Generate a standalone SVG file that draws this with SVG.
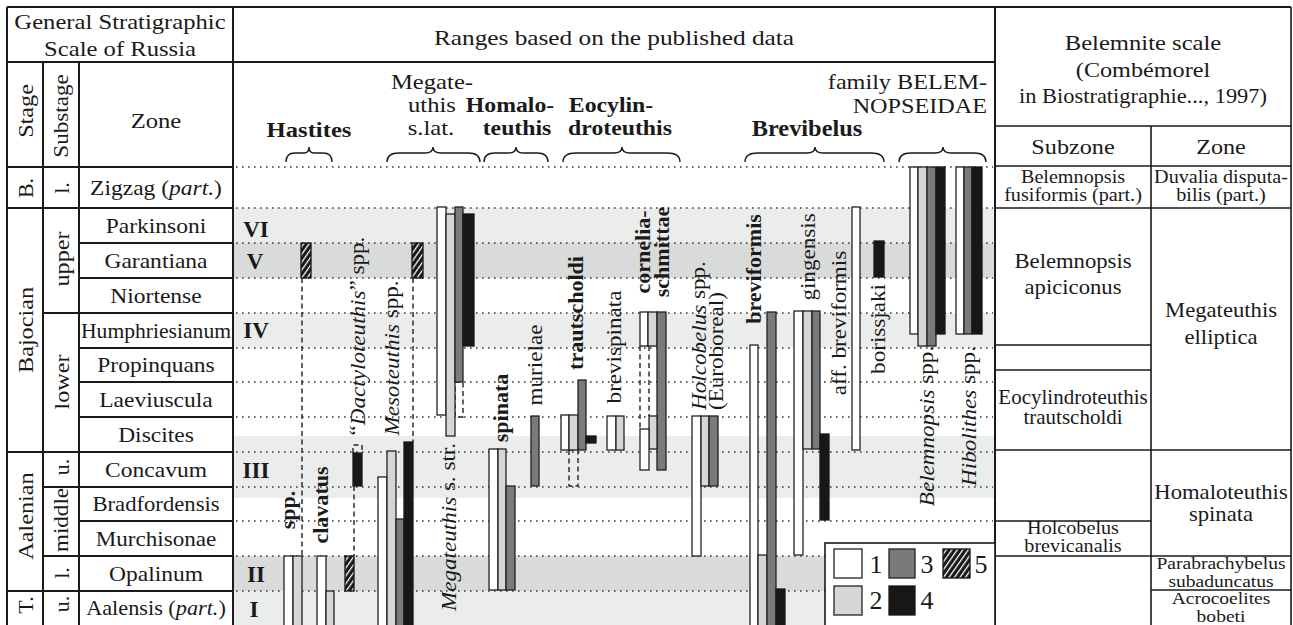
<svg xmlns="http://www.w3.org/2000/svg" width="1293" height="625" viewBox="0 0 1293 625">
<defs>
<pattern id="hatch" patternUnits="userSpaceOnUse" width="4.5" height="4.5" patternTransform="rotate(35)">
<rect width="4.5" height="4.5" fill="#151515"/>
<line x1="1.5" y1="0" x2="1.5" y2="4.5" stroke="#fff" stroke-width="1.3"/>
</pattern>
</defs>
<style>
text{font-family:"Liberation Serif","Times New Roman",serif;fill:#1a1a1a}
.zn{font-size:21px;text-anchor:middle}
.hd{font-size:22px;text-anchor:middle}
.he{font-size:22px;text-anchor:end}
.rt{font-size:20px;text-anchor:middle}
.rt2{font-size:18px;text-anchor:middle}
.rt3{font-size:17px;text-anchor:middle}
.rl{font-size:21px;text-anchor:middle;dominant-baseline:central}
.rs{font-size:21px;text-anchor:start;dominant-baseline:central}
.bd{font-weight:bold}
.rn{font-size:23px;font-weight:bold;text-anchor:middle}
.lg{font-size:26px;text-anchor:middle}
.ln{stroke:#1a1a1a;stroke-width:2;fill:none}
.ln2{stroke:#1a1a1a;stroke-width:1.6;fill:none}
.dot{stroke:#3a3a3a;stroke-width:1.6;stroke-dasharray:1.6 4.4;fill:none}
.dash{stroke:#222;stroke-width:1.4;stroke-dasharray:5 3.5;fill:none}
.b1{fill:#fff;stroke:#222;stroke-width:1.3}
.b2{fill:#d6d6d6;stroke:#222;stroke-width:1.3}
.b3{fill:#7a7a7a;stroke:#222;stroke-width:1.3}
.b4{fill:#171717;stroke:#171717;stroke-width:1.3}
.b5{fill:url(#hatch);stroke:#151515;stroke-width:1.3}
.br{stroke:#1a1a1a;stroke-width:1.4;fill:none}
</style>
<rect width="1293" height="625" fill="#fff"/>

<g id="bands">
<rect x="234" y="208" width="760" height="35" fill="#ebecec"/>
<rect x="234" y="243" width="760" height="35" fill="#d9dada"/>
<rect x="234" y="313" width="760" height="35" fill="#ebecec"/>
<rect x="234" y="436" width="760" height="62" fill="#ebecec"/>
<rect x="234" y="556" width="760" height="35" fill="#d9dada"/>
<rect x="234" y="591" width="760" height="34" fill="#ebecec"/>
</g>

<g id="dotted-levels">
<path class="dot" d="M236 167H993M236 208H993M236 243H993M236 278H993M236 313H993M236 348H993M236 382H993M236 417H993M236 452H993M236 487H993M236 521H993M236 556H993M236 591H993"/>
</g>

<g id="grid">
<path class="ln" d="M7 7H1291M7 7V625M233 7V625M995 7V625M7 62H995M7 167H233M43 62V625M79 62V625"/>
<path class="ln" d="M79 243H233M79 278H233M79 348H233M79 382H233M79 417H233M79 521H233M43 313H233M43 487H233M43 556H233M7 208H233M7 452H233M7 591H233"/>
<path class="ln2" d="M1291 7V625M995 126H1291M1151 126V625M995 166H1291M995 208H1291M995 345H1151M995 370H1151M995 450H1291M995 521H1151M995 556H1291M1151 590H1291"/>
</g>

<g id="header-left">
<text class="hd" transform="translate(120,29) scale(1.12,1)">General Stratigraphic</text>
<text class="hd" transform="translate(120,56) scale(1.12,1)">Scale of Russia</text>
<text class="rl" style="font-size:22px" transform="translate(25,111) rotate(-90) scale(1.1,1)">Stage</text>
<text class="rl" transform="translate(61,116) rotate(-90) scale(1.1,1)">Substage</text>
<text class="hd" transform="translate(156,128) scale(1.12,1)">Zone</text>
</g>

<g id="stages">
<text class="rl" style="font-size:22px" transform="translate(25,188) rotate(-90)">B.</text>
<text class="rl" style="font-size:22px" transform="translate(25,330) rotate(-90) scale(1.1,1)">Bajocian</text>
<text class="rl" style="font-size:22px" transform="translate(25,516) rotate(-90) scale(1.1,1)">Aalenian</text>
<text class="rl" style="font-size:22px" transform="translate(25,605) rotate(-90)">T.</text>
<text class="rl" style="font-size:22px" transform="translate(61,188) rotate(-90)">l.</text>
<text class="rl" style="font-size:22px" transform="translate(61,259) rotate(-90) scale(1.1,1)">upper</text>
<text class="rl" style="font-size:22px" transform="translate(61,382) rotate(-90) scale(1.1,1)">lower</text>
<text class="rl" style="font-size:22px" transform="translate(61,467) rotate(-90)">u.</text>
<text class="rl" style="font-size:22px" transform="translate(61,520) rotate(-90) scale(1.05,1)">middle</text>
<text class="rl" style="font-size:22px" transform="translate(61,573) rotate(-90)">l.</text>
<text class="rl" style="font-size:22px" transform="translate(61,604) rotate(-90)">u.</text>
</g>

<g id="zones">
<text class="zn" transform="translate(156,195) scale(1.12,1)">Zigzag (<tspan font-style="italic">part.</tspan>)</text>
<text class="zn" transform="translate(156,233) scale(1.12,1)">Parkinsoni</text>
<text class="zn" transform="translate(156,268) scale(1.12,1)">Garantiana</text>
<text class="zn" transform="translate(156,303) scale(1.12,1)">Niortense</text>
<text class="zn" transform="translate(156,338) scale(1.03,1)">Humphriesianum</text>
<text class="zn" transform="translate(156,372) scale(1.12,1)">Propinquans</text>
<text class="zn" transform="translate(156,407) scale(1.12,1)">Laeviuscula</text>
<text class="zn" transform="translate(156,442) scale(1.12,1)">Discites</text>
<text class="zn" transform="translate(156,477) scale(1.12,1)">Concavum</text>
<text class="zn" transform="translate(156,511) scale(1.08,1)">Bradfordensis</text>
<text class="zn" transform="translate(156,546) scale(1.1,1)">Murchisonae</text>
<text class="zn" transform="translate(156,581) scale(1.12,1)">Opalinum</text>
<text class="zn" transform="translate(156,615) scale(1.06,1)">Aalensis (<tspan font-style="italic">part.</tspan>)</text>
</g>

<g id="levels">
<text class="rn" x="256" y="237">VI</text>
<text class="rn" x="255" y="269">V</text>
<text class="rn" x="256" y="338">IV</text>
<text class="rn" x="256" y="478">III</text>
<text class="rn" x="256" y="582">II</text>
<text class="rn" x="254" y="617">I</text>
</g>

<g id="header-middle">
<text class="hd" transform="translate(614,45) scale(1.15,1)">Ranges based on the published data</text>
<text class="hd bd" transform="translate(309,137) scale(1.12,1)">Hastites</text>
<text class="hd" transform="translate(432,89) scale(1.12,1)">Megate-</text>
<text class="hd" transform="translate(432,112) scale(1.12,1)">uthis</text>
<text class="hd" transform="translate(431,135) scale(1.12,1)">s.lat.</text>
<text class="hd bd" transform="translate(510,112) scale(1.08,1)">Homalo-</text>
<text class="hd bd" transform="translate(517,135) scale(1.08,1)">teuthis</text>
<text class="hd bd" transform="translate(611,112) scale(1.08,1)">Eocylin-</text>
<text class="hd bd" transform="translate(620,135) scale(1.08,1)">droteuthis</text>
<text class="hd bd" style="font-size:23px" transform="translate(807,136) scale(1.06,1)">Brevibelus</text>
<text class="he" transform="translate(987,89) scale(1.1,1)">family BELEM-</text>
<text class="he" transform="translate(987,113) scale(1.1,1)">NOPSEIDAE</text>
</g>

<g id="braces">
<path class="br" d="M286 162Q286 153 295 153L304 153Q309 153 309 147Q309 153 314 153L323 153Q332 153 332 162"/>
<path class="br" d="M387 162Q387 153 399 153L425 153Q433 153 433 147Q433 153 441 153L468 153Q480 153 480 162"/>
<path class="br" d="M484 162Q484 153 495 153L509 153Q516 153 516 147Q516 153 523 153L537 153Q548 153 548 162"/>
<path class="br" d="M563 162Q563 153 576 153L614 153Q622 153 622 147Q622 153 630 153L667 153Q680 153 680 162"/>
<path class="br" d="M745 162Q745 153 758 153L807 153Q815 153 815 147Q815 153 823 153L871 153Q884 153 884 162"/>
<path class="br" d="M899 162Q899 153 911 153L935 153Q943 153 943 147Q943 153 951 153L974 153Q986 153 986 162"/>
</g>

<g id="connectors">
<path class="dash" d="M302 278V556M354 486V556M413 278V442M640 346V429M649 346V416M353 453V445H362V453"/>
<rect class="dash" x="455" y="382" width="8" height="35" fill="#fff"/>
<rect class="dash" x="569" y="450" width="9" height="36" fill="#d6d6d6"/>
</g>

<g id="hastites-spp">
<rect class="b5" x="301" y="243" width="10" height="35"/>
<rect class="b1" x="284" y="556" width="9" height="72"/>
<rect class="b2" x="293" y="556" width="9" height="72"/>
<text class="rl bd" transform="translate(288,510) rotate(-90) scale(1.05,1)">spp.</text>
</g>

<g id="hastites-clavatus">
<rect class="b1" x="317" y="556" width="9" height="72"/>
<rect class="b2" x="326" y="591" width="8" height="37"/>
<text class="rl bd" transform="translate(321,505) rotate(-90) scale(1.05,1)">clavatus</text>
</g>

<g id="dactyloteuthis">
<rect class="b5" x="345" y="556" width="9" height="35"/>
<rect class="b4" x="353" y="453" width="9" height="33"/>
<text class="rl" transform="translate(357,336) rotate(-90) scale(1.1,1)">“<tspan font-style="italic">Dactyloteuthis</tspan>” spp.</text>
</g>

<g id="mesoteuthis">
<rect class="b5" x="412" y="243" width="11" height="35"/>
<rect class="b1" x="378" y="477" width="9" height="151"/>
<rect class="b2" x="387" y="451" width="9" height="177"/>
<rect class="b3" x="396" y="519" width="8" height="109"/>
<rect class="b4" x="404" y="442" width="9" height="186"/>
<text class="rl" transform="translate(391,358) rotate(-90) scale(1.1,1)"><tspan font-style="italic">Mesoteuthis</tspan> spp.</text>
</g>

<g id="megateuthis-s-str">
<rect class="b1" x="437" y="207" width="9" height="208"/>
<rect class="b2" x="446" y="214" width="9" height="222"/>
<rect class="b3" x="455" y="207" width="8" height="175"/>
<rect class="b4" x="463" y="214" width="11" height="132"/>
<text class="rl" transform="translate(448,527) rotate(-90) scale(1.1,1)"><tspan font-style="italic">Megateuthis</tspan> s. str.</text>
</g>

<g id="spinata">
<rect class="b1" x="489" y="449" width="9" height="141"/>
<rect class="b2" x="498" y="449" width="8" height="141"/>
<rect class="b3" x="506" y="486" width="9" height="104"/>
<text class="rl bd" transform="translate(501,408) rotate(-90) scale(1.05,1)">spinata</text>
</g>

<g id="murielae">
<rect class="b3" x="531" y="416" width="8" height="70"/>
<text class="rl" transform="translate(535,365) rotate(-90) scale(1.1,1)">murielae</text>
</g>

<g id="trautscholdi">
<rect class="b1" x="561" y="415" width="8" height="35"/>
<rect class="b2" x="569" y="415" width="9" height="35"/>
<rect class="b3" x="578" y="380" width="8" height="70"/>
<rect class="b4" x="586" y="436" width="10" height="7"/>
<text class="rl bd" transform="translate(576,313) rotate(-90) scale(1.05,1)">trautscholdi</text>
</g>

<g id="brevispinata">
<rect class="b1" x="607" y="416" width="9" height="34"/>
<rect class="b2" x="616" y="416" width="8" height="34"/>
<text class="rl" transform="translate(614,347) rotate(-90) scale(1.1,1)">brevispinata</text>
</g>

<g id="cornelia-schmittae">
<rect class="b1" x="640" y="312" width="8" height="34"/>
<rect class="b2" x="648" y="312" width="9" height="34"/>
<rect class="b3" x="657" y="312" width="9" height="158"/>
<rect class="b2" x="649" y="416" width="8" height="33"/>
<rect class="b1" x="640" y="429" width="9" height="41"/>
<text class="rl bd" transform="translate(643,252) rotate(-90) scale(1.05,1)">cornelia-</text>
<text class="rl bd" transform="translate(662,252) rotate(-90) scale(1.05,1)">schmittae</text>
</g>

<g id="holcobelus">
<rect class="b1" x="692" y="416" width="9" height="140"/>
<rect class="b2" x="701" y="416" width="8" height="70"/>
<rect class="b3" x="709" y="416" width="9" height="70"/>
<text class="rs" transform="translate(698,410) rotate(-90) scale(1.1,1)"><tspan font-style="italic">Holcobelus</tspan> spp.</text>
<text class="rs" transform="translate(716,410) rotate(-90) scale(1.1,1)">(Euroboreal)</text>
</g>

<g id="breviformis">
<rect class="b1" x="750" y="345" width="8" height="283"/>
<rect class="b2" x="758" y="555" width="9" height="73"/>
<rect class="b3" x="767" y="312" width="9" height="316"/>
<rect class="b4" x="776" y="589" width="9" height="39"/>
<text class="rl bd" transform="translate(754,269) rotate(-90) scale(1.05,1)">breviformis</text>
</g>

<g id="gingensis">
<rect class="b1" x="794" y="311" width="9" height="244"/>
<rect class="b2" x="803" y="311" width="9" height="138"/>
<rect class="b3" x="812" y="311" width="8" height="138"/>
<rect class="b4" x="820" y="434" width="9" height="86"/>
<text class="rl" transform="translate(808,257) rotate(-90) scale(1.1,1)">gingensis</text>
</g>

<g id="aff-breviformis">
<rect class="b1" x="852" y="207" width="8" height="243"/>
<text class="rl" transform="translate(839,323) rotate(-90) scale(1.1,1)">aff. breviformis</text>
</g>

<g id="borissjaki">
<rect class="b4" x="874" y="241" width="10" height="36"/>
<text class="rl" transform="translate(878,329) rotate(-90) scale(1.1,1)">borissjaki</text>
</g>

<g id="belemnopsis">
<rect class="b1" x="910" y="167" width="8" height="167"/>
<rect class="b2" x="918" y="167" width="9" height="179"/>
<rect class="b3" x="927" y="167" width="9" height="179"/>
<rect class="b4" x="936" y="167" width="9" height="167"/>
<text class="rl" transform="translate(926,426) rotate(-90) scale(1.1,1)"><tspan font-style="italic">Belemnopsis</tspan> spp.</text>
</g>

<g id="hibolithes">
<rect class="b1" x="956" y="167" width="8" height="167"/>
<rect class="b3" x="964" y="167" width="8" height="167"/>
<rect class="b4" x="972" y="167" width="10" height="167"/>
<text class="rl" transform="translate(968,416) rotate(-90) scale(1.1,1)"><tspan font-style="italic">Hibolithes</tspan> spp.</text>
</g>

<g id="legend">
<rect x="825" y="543" width="170" height="90" fill="#fff" stroke="#1a1a1a" stroke-width="1.6"/>
<rect class="b1" x="834" y="549" width="28" height="29"/>
<rect class="b3" x="889" y="549" width="26" height="29"/>
<rect class="b5" x="943" y="549" width="27" height="29"/>
<rect class="b2" x="834" y="586" width="28" height="29"/>
<rect class="b4" x="889" y="586" width="26" height="29"/>
<text class="lg" x="876" y="573">1</text>
<text class="lg" x="927" y="573">3</text>
<text class="lg" x="981" y="573">5</text>
<text class="lg" x="876" y="609">2</text>
<text class="lg" x="927" y="609">4</text>
</g>

<g id="belemnite-scale">
<text class="hd" transform="translate(1143,50) scale(1.12,1)">Belemnite scale</text>
<text class="hd" transform="translate(1143,77) scale(1.1,1)">(Combémorel</text>
<text class="hd" transform="translate(1143,103) scale(1.02,1)">in Biostratigraphie..., 1997)</text>
<text class="hd" transform="translate(1073,154) scale(1.1,1)">Subzone</text>
<text class="hd" transform="translate(1221,154) scale(1.1,1)">Zone</text>
<text class="rt2" transform="translate(1073,183) scale(1.12,1)">Belemnopsis</text>
<text class="rt2" transform="translate(1073,201) scale(1.12,1)">fusiformis (part.)</text>
<text class="rt2" transform="translate(1221,183) scale(1.12,1)">Duvalia disputa-</text>
<text class="rt2" transform="translate(1221,201) scale(1.12,1)">bilis (part.)</text>
<text class="rt" style="font-size:21px" transform="translate(1073,268) scale(1.08,1)">Belemnopsis</text>
<text class="rt" style="font-size:21px" transform="translate(1073,294) scale(1.08,1)">apiciconus</text>
<text class="rt" style="font-size:21px" transform="translate(1221,317) scale(1.08,1)">Megateuthis</text>
<text class="rt" style="font-size:21px" transform="translate(1221,344) scale(1.08,1)">elliptica</text>
<text class="rt" transform="translate(1073,404) scale(1.05,1)">Eocylindroteuthis</text>
<text class="rt" transform="translate(1073,424) scale(1.05,1)">trautscholdi</text>
<text class="rt" style="font-size:21px" transform="translate(1221,499) scale(1.08,1)">Homaloteuthis</text>
<text class="rt" style="font-size:21px" transform="translate(1221,521) scale(1.08,1)">spinata</text>
<text class="rt2" transform="translate(1073,534) scale(1.12,1)">Holcobelus</text>
<text class="rt2" transform="translate(1073,552) scale(1.12,1)">brevicanalis</text>
<text class="rt3" transform="translate(1221,569) scale(1.15,1)">Parabrachybelus</text>
<text class="rt3" transform="translate(1221,587) scale(1.15,1)">subaduncatus</text>
<text class="rt3" transform="translate(1221,604) scale(1.15,1)">Acrocoelites</text>
<text class="rt3" transform="translate(1221,622) scale(1.15,1)">bobeti</text>
</g>
</svg>
